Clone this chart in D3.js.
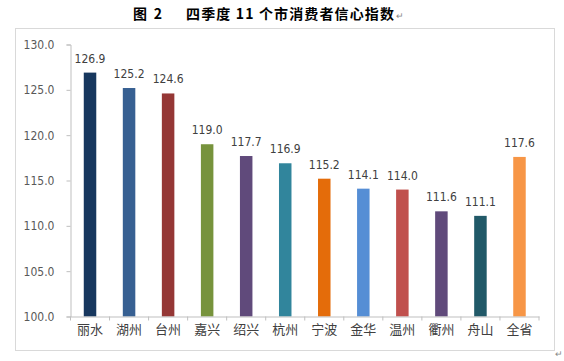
<!DOCTYPE html>
<html><head><meta charset="utf-8">
<script src="https://cdn.jsdelivr.net/npm/d3@7"></script>
<style>body{margin:0;background:#fff}</style>
</head><body>
<svg id="c" width="564" height="361"></svg>
<script>
const categories = ["丽水","湖州","台州","嘉兴","绍兴","杭州","宁波","金华","温州","衢州","舟山","全省"];
const values = [126.9,125.2,124.6,119.0,117.7,116.9,115.2,114.1,114.0,111.6,111.1,117.6];
const colors = ["#17375E","#376092","#953735","#77933C","#604A7B","#31859C","#E46C0A","#558ED5","#C0504D","#604A7B","#215968","#F79646"];
const yTicks = [100,105,110,115,120,125,130];
const titleA = "图 2";
const titleB = "四季度 11 个市消费者信心指数";

const svg = d3.select("#c");
svg.append("rect").attr("x",15.5).attr("y",28.5).attr("width",539).attr("height",322)
  .attr("fill","#fff").attr("stroke","#d9d9d9");
const tf = "'Noto Sans CJK SC'";
svg.append("text").attr("x",133).attr("y",19).attr("textLength",29).attr("lengthAdjust","spacing")
  .attr("font-family",tf).attr("font-weight","bold").attr("font-size",14).attr("fill","#000")
  .style("white-space","pre").text(titleA);
svg.append("text").attr("x",186).attr("y",19).attr("textLength",208).attr("lengthAdjust","spacing")
  .attr("font-family",tf).attr("font-weight","bold").attr("font-size",14).attr("fill","#000")
  .style("white-space","pre").text(titleB);
svg.append("text").attr("x",396).attr("y",19).attr("font-size",9).attr("fill","#888").text("↵");
svg.append("text").attr("x",555).attr("y",357).attr("font-size",9).attr("fill","#888").text("↵");

const L=70.5, R=539, T=44.5, B=316.5;
const x = d3.scaleBand().domain(categories).range([L,R]).paddingInner(0).paddingOuter(0);
const y = d3.scaleLinear().domain([100,130]).range([B,T]);
const bw = 12.5;

const g = svg.append("g");
g.selectAll("rect.bar").data(values).join("rect").attr("class","bar")
  .attr("x",(d,i)=>x(categories[i])+x.bandwidth()/2-bw/2)
  .attr("y",d=>y(d)).attr("width",bw).attr("height",d=>B-y(d))
  .attr("fill",(d,i)=>colors[i]);
g.selectAll("text.val").data(values).join("text").attr("class","val")
  .attr("x",(d,i)=>x(categories[i])+x.bandwidth()/2)
  .attr("y",d=>y(d)-10).attr("text-anchor","middle")
  .attr("font-family","'Liberation Sans Narrow','DejaVu Sans Condensed',sans-serif").attr("font-size",12)
  .attr("fill","#404040").text(d=>d.toFixed(1));

const ya = svg.append("g").attr("transform",`translate(${L},0)`)
  .call(d3.axisLeft(y).tickValues(yTicks).tickFormat(d3.format(".1f")).tickSize(4).tickPadding(12));
ya.select(".domain").attr("stroke","#bfbfbf");
ya.selectAll(".tick line").attr("stroke","#bfbfbf");
ya.selectAll("text").attr("font-family","'Liberation Sans Narrow','DejaVu Sans Condensed',sans-serif")
  .attr("font-size",12).attr("fill","#595959");

const xa = svg.append("g").attr("transform",`translate(0,${B})`)
  .call(d3.axisBottom(x).tickSize(0).tickPadding(8).tickSizeOuter(0));
xa.select(".domain").attr("stroke","#bfbfbf");
xa.selectAll("text").attr("font-family","'Noto Sans CJK SC'").attr("font-size",13).attr("fill","#404040");
svg.append("g").selectAll("line").data(d3.range(categories.length+1)).join("line")
  .attr("x1",i=>L+i*x.bandwidth()).attr("x2",i=>L+i*x.bandwidth())
  .attr("y1",B).attr("y2",B+4).attr("stroke","#bfbfbf");
</script>
</body></html>
